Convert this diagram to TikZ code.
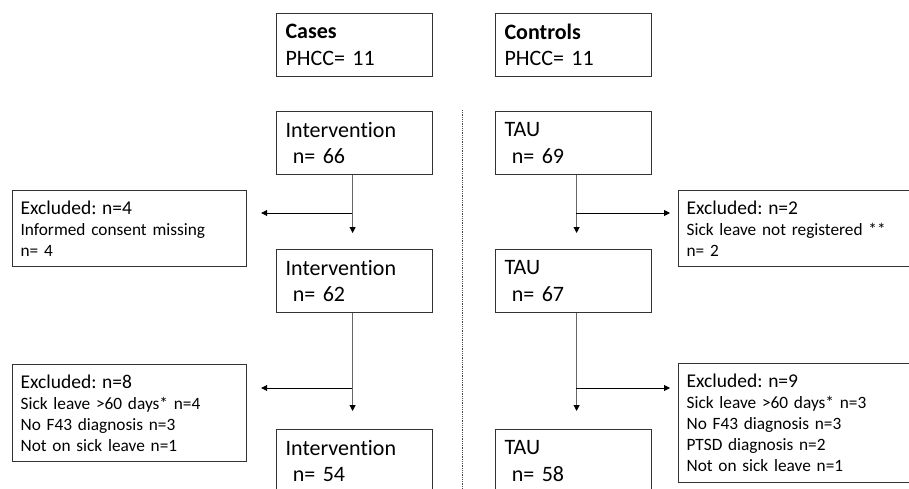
\documentclass[tikz,border=0pt]{standalone}
\usepackage{fontspec}
\setmainfont{Carlito}[Ligatures=NoCommon, WordSpace=0.72]
\usepackage{tikz}
\usetikzlibrary{arrows.meta, positioning, calc}
\frenchspacing

\begin{document}
\begin{tikzpicture}[x=1pt, y=-1pt, >={Triangle[length=6pt, width=6pt]},
    box/.style={draw=black!80, line width=1.2pt, anchor=north west, align=left,
        inner xsep=9pt, inner ysep=0pt, minimum height=63pt,
        text width=138pt, font=\fontsize{22}{26.5}\selectfont},
    exbox/.style={draw=black!80, line width=1.2pt, anchor=north west, align=left,
        inner xsep=8pt, inner ysep=0pt, font=\fontsize{17.3}{21}\selectfont},
    down/.style={draw=black!60, line width=1pt, -{Triangle[length=6pt, width=6pt, black]}},
    side/.style={draw=black, line width=0.9pt, ->}]
        \useasboundingbox (0,0) rectangle (909,489);
        % Groups
        \node[box] (cases) at (276,13) {\textbf{Cases}\\PHCC= 11};
        \node[box] (controls) at (495,13) {\textbf{Controls}\\PHCC= 11};
        % Cases arm
        \node[box] (int1) at (276,111) {Intervention\\\ n= 66};
        \node[box] (int2) at (276,249) {Intervention\\\ n= 62};
        \node[box] (int3) at (276,429) {Intervention\\\ n= 54};
        \node[exbox, minimum width=234pt, minimum height=76pt, text width=218pt] (exc1) at (12,190)
            {{\fontsize{19.5}{21}\selectfont Excluded: n=4}\\Informed consent missing\\n= 4};
        \node[exbox, minimum width=234pt, minimum height=97pt, text width=218pt] (exc2) at (12,364)
            {{\fontsize{19.5}{21}\selectfont Excluded: n=8}\\Sick leave >60 days* n=4\\No F43 diagnosis n=3\\Not on sick leave n=1};
        % Controls arm
        \node[box] (tau1) at (495,111) {TAU\\\ n= 69};
        \node[box] (tau2) at (495,249) {TAU\\\ n= 67};
        \node[box] (tau3) at (495,429) {TAU\\\ n= 58};
        \node[exbox, minimum width=240pt, minimum height=76pt, text width=224pt] (exc3) at (678,190)
            {{\fontsize{19.5}{21}\selectfont Excluded: n=2}\\Sick leave not registered **\\n= 2};
        \node[exbox, minimum width=240pt, minimum height=119pt, text width=224pt] (exc4) at (678,363)
            {{\fontsize{19.5}{21}\selectfont Excluded: n=9}\\Sick leave >60 days* n=3\\No F43 diagnosis n=3\\PTSD diagnosis n=2\\Not on sick leave n=1};
        % Divider
        \draw[black!70, line width=0.8pt, densely dotted] (462,110) -- (462,489);
        % Flow
        \coordinate (br1) at (352,213);
        \coordinate (br2) at (352,388);
        \coordinate (br3) at (576,213);
        \coordinate (br4) at (576,388);
        \draw[down, shorten >=16pt] ([xshift=-2pt]int1.south) -- ([xshift=-2pt]int2.north);
        \draw[down, shorten >=18pt] ([xshift=-2pt]int2.south) -- ([xshift=-2pt]int3.north);
        \draw[down, shorten >=16pt] ([xshift=3pt]tau1.south) -- ([xshift=3pt]tau2.north);
        \draw[down, shorten >=18pt] ([xshift=3pt]tau2.south) -- ([xshift=3pt]tau3.north);
        \draw[side, shorten >=14pt] (br1) -- (br1 -| exc1.east);
        \draw[side, shorten >=14pt] (br2) -- (br2 -| exc2.east);
        \draw[side, shorten >=8pt] (br3) -- (br3 -| exc3.west);
        \draw[side, shorten >=8pt] (br4) -- (br4 -| exc4.west);
    \end{tikzpicture}
\end{document}
